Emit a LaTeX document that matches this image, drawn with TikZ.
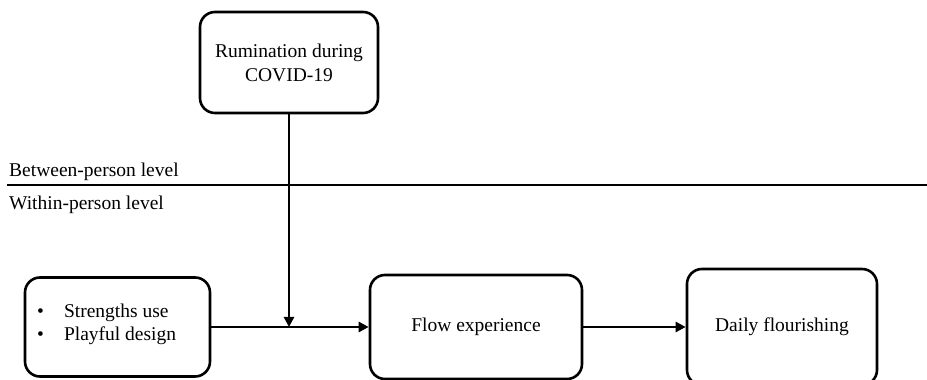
\documentclass[tikz,border=0pt]{standalone}
\usepackage{fontspec}
\setmainfont{Liberation Serif}
\usetikzlibrary{arrows.meta}
\begin{document}
\begin{tikzpicture}[x=1pt,y=1pt,
  boxnode/.style={draw,line width=2.6pt,rounded corners=15pt,inner sep=0pt,align=center,font=\fontsize{19.5}{24}\selectfont},
  conn/.style={line width=2.6pt,-{Triangle[length=10pt,width=10pt]}},
  lvl/.style={anchor=base west,inner sep=0pt,font=\fontsize{19.5}{24}\selectfont}]
\useasboundingbox (0,0) rectangle (927,380);
\node[boxnode,minimum width=178pt,minimum height=101pt] (rum) at (289,317.5) {Rumination during\\COVID-19};
\node[boxnode,minimum width=185pt,minimum height=99pt] (str) at (117.5,53) {};
\node[anchor=west,inner sep=0pt,font=\fontsize{19.5}{23}\selectfont,align=left] (strtext) at (37,56) {\textbullet\hspace{20pt}Strengths use\\\textbullet\hspace{20pt}Playful design};
\node[boxnode,minimum width=212pt,minimum height=104pt] (flow) at (476,53) {Flow experience};
\node[boxnode,minimum width=190pt,minimum height=116pt] (daily) at (782,53) {Daily flourishing};
\coordinate (ls) at (7,195);
\coordinate (le) at (927,195);
\draw[line width=1.3pt] (ls) -- (le);
\node[lvl] (btw) at (9,203) {Between-person level};
\node[lvl] (wth) at (9,170) {Within-person level};
\coordinate (mid) at (rum.south |- str.east);
\draw[conn] (str.east) -- (flow.west);
\draw[conn] (rum.south) -- (mid);
\draw[conn] (flow.east) -- (daily.west);
\end{tikzpicture}
\end{document}
